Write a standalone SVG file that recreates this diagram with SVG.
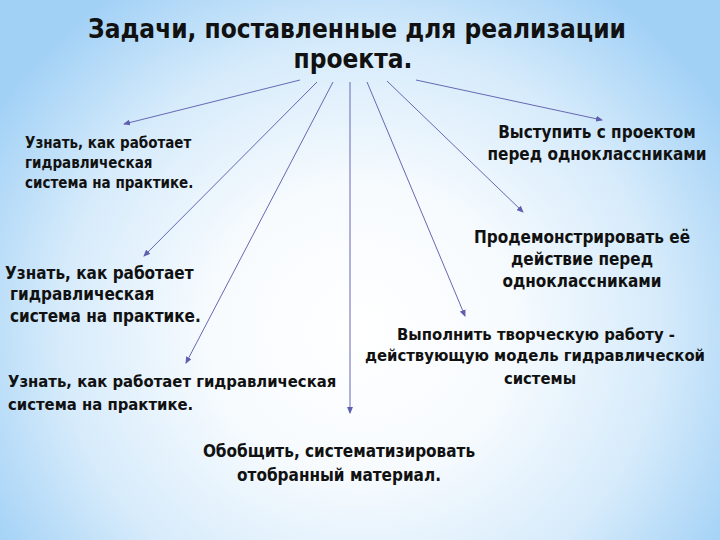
<svg xmlns="http://www.w3.org/2000/svg" width="720" height="540" viewBox="0 0 720 540">
<defs>
<radialGradient id="bg" cx="360" cy="330" r="430" gradientUnits="userSpaceOnUse" gradientTransform="translate(360 330) scale(1 0.95) translate(-360 -330)">
<stop offset="0" stop-color="#ffffff"/>
<stop offset="0.35" stop-color="#f7fbfe"/>
<stop offset="0.7" stop-color="#d6ebfb"/>
<stop offset="1" stop-color="#a2d1f6"/>
</radialGradient>
<marker id="ah" markerWidth="7" markerHeight="6" refX="6" refY="3" orient="auto" markerUnits="userSpaceOnUse">
<path d="M0,0 L7,3 L0,6 Z" fill="#5f5fae"/>
</marker>
<style>
text{font-family:"DejaVu Sans Condensed","DejaVu Sans",sans-serif;font-weight:bold;fill:#111}
.t{font-size:26px}
.s{font-size:15px}
.m{font-size:17px}
.n{font-size:16.5px}
.c{text-anchor:middle}
.a{stroke:#6767b3;stroke-width:1;fill:none;marker-end:url(#ah)}
</style>
</defs>
<rect width="720" height="540" fill="url(#bg)"/>
<g id="title">
<text class="t c" x="357" y="38">Задачи, поставленные для реализации</text>
<text class="t c" x="353" y="68">проекта.</text>
</g>
<g id="connectors">
<line class="a" x1="300" y1="80" x2="124" y2="124"/>
<line class="a" x1="317" y1="82" x2="144" y2="256"/>
<line class="a" x1="333" y1="82" x2="186" y2="363"/>
<line class="a" x1="350" y1="82" x2="350" y2="413"/>
<line class="a" x1="367" y1="82" x2="465" y2="316"/>
<line class="a" x1="387" y1="81" x2="523" y2="212"/>
<line class="a" x1="416" y1="80" x2="602" y2="120"/>
</g>
<g id="node1">
<text class="s" x="25" y="148">Узнать, как работает</text>
<text class="s" x="25" y="168">гидравлическая</text>
<text class="s" x="25" y="188">система на практике.</text>
</g>
<g id="node2">
<text class="m" x="5" y="279">Узнать, как работает</text>
<text class="m" x="10" y="300">гидравлическая</text>
<text class="m" x="10" y="322">система на практике.</text>
</g>
<g id="node3">
<text class="n" x="8" y="387">Узнать, как работает гидравлическая</text>
<text class="n" x="8" y="410">система на практике.</text>
</g>
<g id="node4">
<text class="m c" x="339" y="457">Обобщить, систематизировать</text>
<text class="m c" x="339" y="481">отобранный материал.</text>
</g>
<g id="node5">
<text class="n c" x="536" y="340">Выполнить творческую работу -</text>
<text class="n c" x="535" y="361">действующую модель гидравлической</text>
<text class="n c" x="540" y="384">системы</text>
</g>
<g id="node6">
<text class="m c" x="582" y="243">Продемонстрировать её</text>
<text class="m c" x="582" y="265">действие перед</text>
<text class="m c" x="582" y="287">одноклассниками</text>
</g>
<g id="node7">
<text class="m c" x="597" y="138">Выступить с проектом</text>
<text class="m c" x="597" y="160">перед одноклассниками</text>
</g>
</svg>
